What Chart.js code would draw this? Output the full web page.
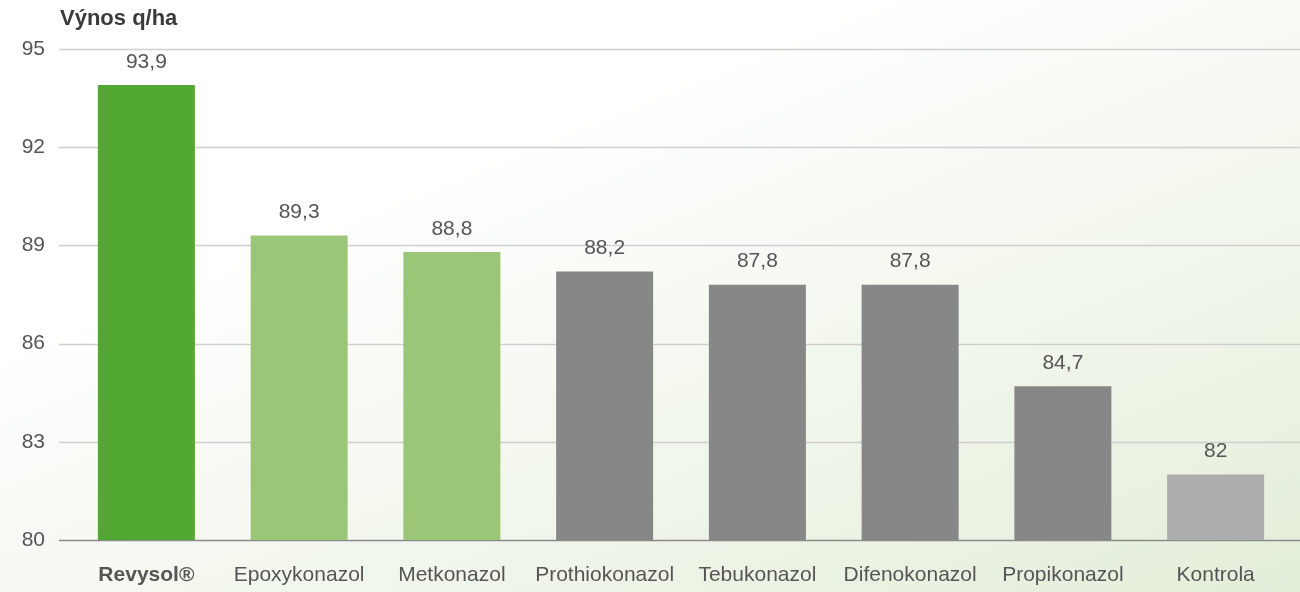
<!DOCTYPE html>
<html>
<head>
<meta charset="utf-8">
<script src="https://cdn.jsdelivr.net/npm/chart.js@4/dist/chart.umd.min.js"></script>
<style>
html,body{margin:0;padding:0;}
body{width:1300px;height:592px;background:linear-gradient(158deg,#ffffff 30%,#e3eed9 100%);}
#wrap{width:1300px;height:592px;position:relative;}
</style>
</head>
<body>
<div id="wrap"><canvas id="c" width="1300" height="592"></canvas></div>
<script>
const categories = ["Revysol®","Epoxykonazol","Metkonazol","Prothiokonazol","Tebukonazol","Difenokonazol","Propikonazol","Kontrola"];
const yields = [93.9, 89.3, 88.8, 88.2, 87.8, 87.8, 84.7, 82];
const barColors = ["#52a832","#9bc577","#9bc577","#878787","#878787","#878787","#878787","#adadad"];
const yTicks = [80, 83, 86, 89, 92, 95];
const axisTitle = "Výnos q/ha";

const FONT = "'Liberation Sans', Arial, Helvetica, sans-serif";

const decorPlugin = {
  id: 'decor',
  beforeDatasetsDraw(chart) {
    const ctx = chart.ctx, y = chart.scales.y;
    ctx.save();
    yTicks.forEach(v => {
      const py = Math.round(y.getPixelForValue(v)) + 0.5;
      ctx.strokeStyle = v === yTicks[0] ? '#8a8a8a' : '#cfcfcf';
      ctx.lineWidth = 1.5;
      ctx.beginPath();
      ctx.moveTo(59, py);
      ctx.lineTo(chart.width, py);
      ctx.stroke();
    });
    ctx.restore();
  },
  afterDatasetsDraw(chart) {
    const ctx = chart.ctx;
    ctx.save();
    ctx.font = '21px ' + FONT;
    ctx.fillStyle = '#555555';
    ctx.textAlign = 'center';
    ctx.textBaseline = 'middle';
    chart.getDatasetMeta(0).data.forEach((bar, i) => {
      ctx.fillText(String(yields[i]).replace('.', ','), bar.x, bar.y - 23);
    });
    ctx.font = 'bold 22px ' + FONT;
    ctx.fillStyle = '#3a3a3a';
    ctx.textAlign = 'left';
    ctx.fillText(axisTitle, 60, 19);
    ctx.restore();
  }
};

new Chart(document.getElementById('c'), {
  type: 'bar',
  data: {
    labels: categories,
    datasets: [{
      data: yields,
      backgroundColor: barColors,
      borderWidth: 0,
      categoryPercentage: 1,
      barPercentage: 0.635
    }]
  },
  options: {
    responsive: false,
    animation: false,
    layout: { padding: { top: 49, right: 8, left: 0, bottom: 0 } },
    plugins: { legend: { display: false }, tooltip: { enabled: false }, title: { display: false } },
    scales: {
      x: {
        grid: { display: false, drawTicks: false },
        border: { display: false },
        afterFit: s => { s.height = 52; },
        ticks: {
          padding: 23,
          color: '#555555',
          font: ctx => ({ family: FONT, size: 21, weight: ctx.index === 0 ? 'bold' : 'normal' })
        }
      },
      y: {
        min: 80, max: 95,
        afterFit: s => { s.width = 70; },
        afterBuildTicks: s => { s.ticks = yTicks.map(v => ({ value: v })); },
        grid: { display: false, drawTicks: false },
        border: { display: false },
        ticks: {
          padding: 25,
          color: '#555555',
          font: { family: FONT, size: 21 }
        }
      }
    }
  },
  plugins: [decorPlugin]
});
</script>
</body>
</html>
